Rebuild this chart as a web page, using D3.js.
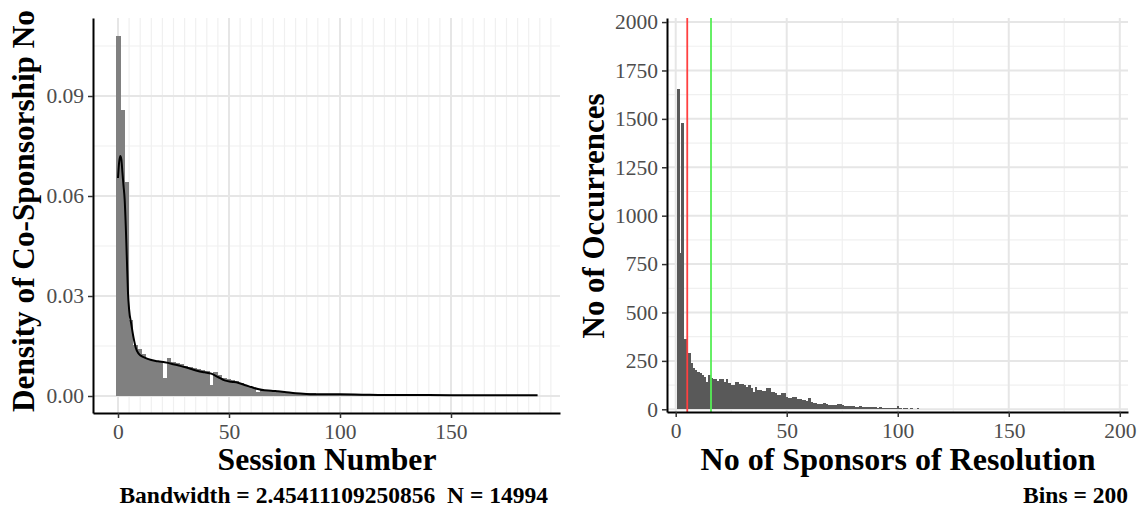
<!DOCTYPE html>
<html><head><meta charset="utf-8">
<script src="https://cdn.jsdelivr.net/npm/d3@7"></script>
<style>body{margin:0;background:#fff} svg{display:block}</style>
</head><body>
<svg id="c" width="1141" height="508"></svg>
<script>
// ---------- DATA ----------
// Left: histogram (density scale) of session numbers, 100 bins
const sessionBinWidth = 1.909;
const sessionDensity = [
 0.108,0.0858,0.0643,0.0228,0.0153,0.0140,0.0125,0.0112,0.0108,0.0105,
 0.0103,0.0054,0.0113,0.0101,0.0099,0.0096,0.0091,0.0088,0.0084,0.0080,
 0.0077,0.0075,0.0033,0.0071,0.0063,0.0055,0.0051,0.0047,0.0044,0.0039,
 0.0034,0.0030,0.0024,0.0013,0.0019,0.0017,0.0016,0.0014,0.0013,0.0012,
 0.0011,0.0010,0.0009,0.0009,0.0005,0.0008,0.0008,0.0007,0.0007,0.0006,
 0.0006,0.0006,0.0005,0.0005,0.0005,0.0003,0.0005,0.0004,0.0004,0.0004,
 0.0004,0.0004,0.0003,0.0003,0.0003,0.0003,0.0002,0.0003,0.0003,0.0003,
 0.0003,0.0003,0.0003,0.0003,0.0003,0.0003,0.0003,0.0002,0.0003,0.0003,
 0.0003,0.0002,0.0002,0.0002,0.0002,0.0002,0.0002,0.0002,0.0001,0.0002,
 0.0002,0.0002,0.0002,0.0002,0.0002,0.0002,0.0002,0.0002,0.0002,0.0001
];
// Kernel density curve
const kdeX = [0,0.5,1,1.5,2,2.5,3,3.5,4,4.5,5,6,7,8,9,10,12,15,18,21,24,27,30,33,36,39,42,45,48,51,54,57,60,63,66,69,72,75,80,85,90,100,110,120,140,160,189];
const kdeY = [0.0654,0.070,0.072,0.071,0.067,0.063,0.059,0.051,0.041,0.031,0.026,0.0215,0.0175,0.0145,0.013,0.0122,0.0115,0.0108,0.0104,0.0101,0.0097,0.0092,0.0087,0.0081,0.0075,0.0071,0.0067,0.0057,0.0047,0.0043,0.0040,0.0033,0.0027,0.0021,0.0017,0.0016,0.0014,0.0012,0.0008,0.0006,0.0005,0.0005,0.0004,0.0003,0.0003,0.0002,0.0002];
const sessionTicks = [0,50,100,150];
const sessionMinor = [5,10,15,20,25,30,35,40,45,55,60,65,70,75,80,85,90,95,105,110,115,120,125,130,135,140,145,155,160,165,170,175,180,185,190,195];
const densityTicks = [0,0.03,0.06,0.09];
const densityMinor = [0.015,0.045,0.075,0.105];

// Right: histogram of sponsors count, values 1..200
const sponsorCounts = [
 1654,806,1477,363,363,289,241,215,203,194,
 189,177,168,139,177,160,155,155,148,155,
 155,143,155,134,125,125,143,139,131,131,
 125,117,125,108,91,117,100,100,96,96,
 108,108,91,91,83,74,74,83,83,65,
 57,57,65,65,52,52,48,48,45,57,
 39,34,34,27,27,27,34,25,22,22,
 22,20,25,25,22,17,17,19,15,17,
 14,14,15,12,14,13,11,10,10,12,
 9,10,8,8,9,7,8,7,6,17,
 5,4,5,6,4,5,3,4,5,3,
 4,3,3,4,2,3,3,2,3,2,
 2,3,2,0,2,1,3,0,2,2,
 1,0,2,1,0,2,1,2,0,1,
 1,0,1,2,0,1,0,1,1,2,
 0,1,1,0,0,1,0,0,1,0,
 1,0,0,1,0,1,1,0,0,1,
 0,0,1,0,1,0,0,0,1,0,
 0,1,0,0,0,1,0,0,0,1,
 0,0,0,0,0,0,0,0,0,1
];
const sponsorTicks = [0,50,100,150,200];
const sponsorMinor = [25,75,125,175];
const countTicks = [0,250,500,750,1000,1250,1500,1750,2000];
const countMinor = [125,375,625,875,1125,1375,1625,1875];
const medianLine = 5.2;
const meanLine = 15.9;
const leftCaption = "Bandwidth = 2.45411109250856  N = 14994";
const rightCaption = "Bins = 200";

// ---------- DRAW ----------
const svg = d3.select("#c");
const FONT = "'Liberation Serif', 'Times New Roman', serif";
const GRID_MAJOR = "#e6e6e6", GRID_MINOR = "#f0f0f0";

function panel(g, x, y, xMajor, xMinor, yMajor, yMinor) {
  const [x0, x1] = x.range(), [yb, yt] = y.range();
  g.append("g").selectAll("line").data(yMinor).join("line")
    .attr("x1", x0).attr("x2", x1).attr("y1", d => y(d)).attr("y2", d => y(d))
    .attr("stroke", GRID_MINOR).attr("stroke-width", 1.2);
  g.append("g").selectAll("line").data(xMinor).join("line")
    .attr("y1", yt).attr("y2", yb).attr("x1", d => x(d)).attr("x2", d => x(d))
    .attr("stroke", GRID_MINOR).attr("stroke-width", 1.2);
  g.append("g").selectAll("line").data(yMajor).join("line")
    .attr("x1", x0).attr("x2", x1).attr("y1", d => y(d)).attr("y2", d => y(d))
    .attr("stroke", GRID_MAJOR).attr("stroke-width", 2);
  g.append("g").selectAll("line").data(xMajor).join("line")
    .attr("y1", yt).attr("y2", yb).attr("x1", d => x(d)).attr("x2", d => x(d))
    .attr("stroke", GRID_MAJOR).attr("stroke-width", 2);
}

function styleAxis(a) {
  a.select(".domain").attr("stroke", "#000").attr("stroke-width", 2);
  a.selectAll(".tick line").attr("stroke", "#333").attr("stroke-width", 1.5);
  a.selectAll(".tick text").attr("fill", "#4d4d4d").style("font-family", FONT).style("font-size", "21.5px");
}

function fitWidth(sel, target, base) {
  sel.style("font-size", base + "px");
  const w = sel.node().getComputedTextLength();
  sel.style("font-size", (base * target / w) + "px");
}

// ----- Left panel -----
const xL = d3.scaleLinear().domain([-11.26, 199.1]).range([93, 560]);
const yL = d3.scaleLinear().domain([-0.0051, 0.1134]).range([413, 18]);
const gL = svg.append("g");
panel(gL, xL, yL, sessionTicks, sessionMinor, densityTicks, densityMinor);

gL.append("g").attr("shape-rendering", "crispEdges")
  .selectAll("rect").data(sessionDensity).join("rect")
  .attr("x", (d, i) => xL((i - 0.5) * sessionBinWidth))
  .attr("width", (d, i) => xL((i + 0.5) * sessionBinWidth) - xL((i - 0.5) * sessionBinWidth) + 0.5)
  .attr("y", d => yL(d))
  .attr("height", d => yL(0) - yL(d))
  .attr("fill", "#808080");

const kde = kdeX.map((v, i) => [v, kdeY[i]]);
gL.append("path").datum(kde)
  .attr("d", d3.line().x(d => xL(d[0])).y(d => yL(d[1])).curve(d3.curveMonotoneX))
  .attr("fill", "none").attr("stroke", "#000").attr("stroke-width", 2);

const axLx = gL.append("g").attr("transform", "translate(0,413)")
  .call(d3.axisBottom(xL).tickValues(sessionTicks).tickSize(5).tickSizeOuter(0).tickPadding(6).tickFormat(d3.format("d")));
styleAxis(axLx);
const axLy = gL.append("g").attr("transform", "translate(93,0)")
  .call(d3.axisLeft(yL).tickValues(densityTicks).tickSize(5).tickSizeOuter(0).tickPadding(4).tickFormat(d3.format(".2f")));
styleAxis(axLy);

const tL = svg.append("text").text("Session Number")
  .attr("x", 327).attr("y", 470).attr("text-anchor", "middle")
  .style("font-family", FONT).style("font-weight", "bold").attr("fill", "#000");
fitWidth(tL, 219, 30);
const tLy = svg.append("text").text("Density of Co-Sponsorship No")
  .attr("transform", "translate(34,211) rotate(-90)").attr("text-anchor", "middle")
  .style("font-family", FONT).style("font-weight", "bold").attr("fill", "#000");
fitWidth(tLy, 402, 30);

// ----- Right panel -----
const xR = d3.scaleLinear().domain([-3.92, 203.7]).range([667, 1128]);
const yR = d3.scaleLinear().domain([-14, 2021]).range([412, 18]);
const gR = svg.append("g");
panel(gR, xR, yR, sponsorTicks, sponsorMinor, countTicks, countMinor);

gR.append("g").attr("shape-rendering", "crispEdges")
  .selectAll("rect").data(sponsorCounts).join("rect")
  .attr("x", (d, i) => xR(i + 1 - 0.5))
  .attr("width", (d, i) => xR(i + 1.5) - xR(i + 0.5) + 0.5)
  .attr("y", d => yR(d))
  .attr("height", d => yR(0) - yR(d))
  .attr("fill", "#595959");

gR.append("line").attr("x1", xR(medianLine)).attr("x2", xR(medianLine))
  .attr("y1", 18).attr("y2", 412).attr("stroke", "#ff4040").attr("stroke-width", 1.8);
gR.append("line").attr("x1", xR(meanLine)).attr("x2", xR(meanLine))
  .attr("y1", 18).attr("y2", 412).attr("stroke", "#55ee55").attr("stroke-width", 1.8);

const axRx = gR.append("g").attr("transform", "translate(0,412)")
  .call(d3.axisBottom(xR).tickValues(sponsorTicks).tickSize(5).tickSizeOuter(0).tickPadding(6).tickFormat(d3.format("d")));
styleAxis(axRx);
const axRy = gR.append("g").attr("transform", "translate(667,0)")
  .call(d3.axisLeft(yR).tickValues(countTicks).tickSize(5).tickSizeOuter(0).tickPadding(4).tickFormat(d3.format("d")));
styleAxis(axRy);

const tR = svg.append("text").text("No of Sponsors of Resolution")
  .attr("x", 898).attr("y", 470).attr("text-anchor", "middle")
  .style("font-family", FONT).style("font-weight", "bold").attr("fill", "#000");
fitWidth(tR, 395, 30);
const tRy = svg.append("text").text("No of Occurrences")
  .attr("transform", "translate(604,216) rotate(-90)").attr("text-anchor", "middle")
  .style("font-family", FONT).style("font-weight", "bold").attr("fill", "#000");
fitWidth(tRy, 245, 30);

// ----- Captions -----
const c1 = svg.append("text").text(leftCaption)
  .attr("x", 548).attr("y", 503).attr("text-anchor", "end")
  .style("font-family", FONT).style("font-weight", "bold").attr("fill", "#000")
  .style("white-space", "pre").attr("xml:space", "preserve");
fitWidth(c1, 429, 20);
const capSize = c1.style("font-size");
svg.append("text").text(rightCaption)
  .attr("x", 1128).attr("y", 503).attr("text-anchor", "end")
  .style("font-family", FONT).style("font-weight", "bold").attr("fill", "#000")
  .style("font-size", capSize);
</script>
</body></html>
